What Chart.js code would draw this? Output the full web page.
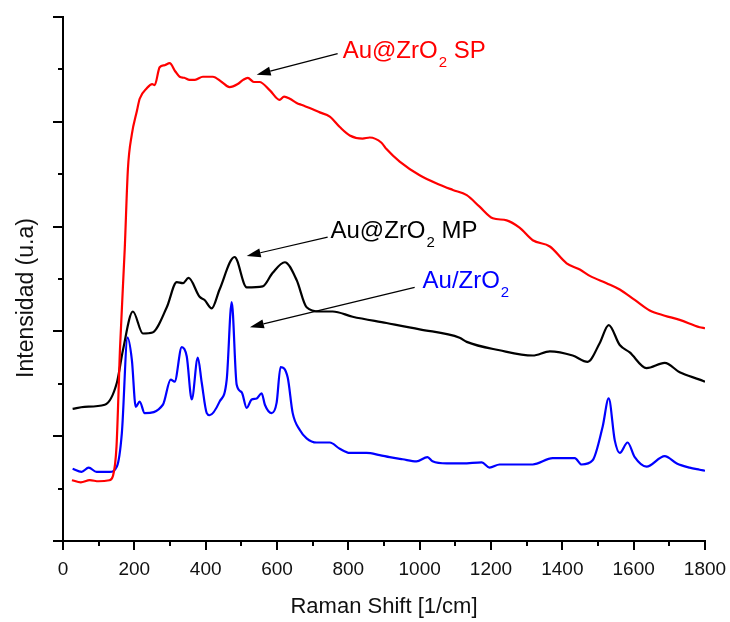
<!DOCTYPE html>
<html>
<head>
<meta charset="utf-8">
<script src="https://cdn.jsdelivr.net/npm/chart.js@4.4.1/dist/chart.umd.min.js"></script>
<style>
  html, body { margin: 0; padding: 0; background: #fff; }
  #wrap { width: 730px; height: 622px; }
</style>
</head>
<body>
<div id="wrap"><canvas id="raman"></canvas></div>
<script>
// Espectros Raman (intensidad en unidades arbitrarias)
const spShift = [25, 50, 75, 100, 130, 140, 150, 160, 173, 182, 193, 207, 215, 235, 250, 257, 271, 285, 299, 315, 327, 340, 355, 370, 392, 420, 445, 467, 490, 505, 518, 535, 551, 580, 607, 620, 636, 655, 670, 700, 720, 748, 776, 804, 840, 860, 893, 907, 944, 1000, 1056, 1093, 1132, 1168, 1205, 1244, 1280, 1317, 1365, 1412, 1449, 1477, 1524, 1561, 1603, 1645, 1687, 1729, 1785, 1800];
const spInt = [0.58, 0.56, 0.58, 0.57, 0.58, 0.62, 0.90, 1.85, 2.78, 3.55, 3.88, 4.10, 4.22, 4.32, 4.36, 4.35, 4.52, 4.54, 4.56, 4.48, 4.43, 4.42, 4.40, 4.40, 4.43, 4.43, 4.38, 4.33, 4.36, 4.40, 4.42, 4.38, 4.38, 4.30, 4.21, 4.24, 4.22, 4.18, 4.16, 4.12, 4.09, 4.05, 3.95, 3.87, 3.84, 3.85, 3.80, 3.74, 3.62, 3.49, 3.40, 3.35, 3.30, 3.19, 3.08, 3.06, 2.99, 2.87, 2.81, 2.65, 2.59, 2.53, 2.46, 2.40, 2.30, 2.20, 2.15, 2.11, 2.04, 2.03];

const mpShift = [27, 60, 117, 151, 168, 196, 224, 251, 291, 319, 336, 352, 383, 397, 417, 439, 481, 515, 560, 588, 622, 655, 683, 720, 756, 812, 907, 1000, 1112, 1132, 1224, 1317, 1365, 1429, 1471, 1505, 1530, 1561, 1589, 1636, 1687, 1729, 1785, 1800];
const mpInt = [1.26, 1.28, 1.30, 1.51, 1.82, 2.19, 1.98, 1.99, 2.23, 2.47, 2.46, 2.51, 2.33, 2.30, 2.22, 2.40, 2.71, 2.42, 2.43, 2.56, 2.66, 2.49, 2.23, 2.19, 2.19, 2.14, 2.08, 2.02, 1.94, 1.90, 1.82, 1.77, 1.81, 1.77, 1.71, 1.89, 2.06, 1.87, 1.80, 1.65, 1.70, 1.61, 1.54, 1.52];

const auShift = [27, 52, 72, 94, 131, 151, 165, 181, 193, 204, 215, 229, 280, 302, 313, 333, 347, 361, 378, 389, 403, 411, 439, 459, 473, 487, 501, 515, 529, 543, 557, 566, 585, 599, 610, 630, 644, 664, 683, 711, 728, 748, 776, 804, 851, 888, 916, 952, 991, 1022, 1036, 1076, 1121, 1174, 1196, 1224, 1317, 1373, 1435, 1454, 1485, 1513, 1530, 1547, 1561, 1583, 1603, 1636, 1687, 1721, 1757, 1785, 1800];
const auInt = [0.69, 0.66, 0.70, 0.66, 0.66, 0.71, 1.03, 1.94, 1.73, 1.28, 1.33, 1.22, 1.30, 1.54, 1.52, 1.85, 1.76, 1.35, 1.75, 1.51, 1.22, 1.20, 1.33, 1.54, 2.28, 1.49, 1.42, 1.27, 1.35, 1.36, 1.41, 1.30, 1.22, 1.32, 1.66, 1.56, 1.22, 1.06, 0.98, 0.94, 0.94, 0.94, 0.88, 0.84, 0.84, 0.82, 0.80, 0.78, 0.76, 0.80, 0.76, 0.74, 0.74, 0.75, 0.70, 0.73, 0.73, 0.79, 0.79, 0.73, 0.77, 1.09, 1.36, 0.96, 0.84, 0.94, 0.80, 0.71, 0.81, 0.74, 0.70, 0.68, 0.67];

const xTicks = [0, 1800, 200, 100];   // min, max, paso mayor, paso menor
const yTicks = [0, 5, 1, 0.5];

const FONT = '"Liberation Sans", Arial, sans-serif';

function toPoints(xs, ys) {
  return xs.map((x, i) => ({ x: x, y: ys[i] }));
}

// Etiquetas con flecha: punta, cola y texto en coordenadas de datos
const notes = [
  { parts: ['Au@ZrO', '2', ' SP'], color: '#ff0000', tip: [543, 4.45], tail: [770, 4.65], text: [784, 4.61] },
  { parts: ['Au@ZrO', '2', ' MP'], color: '#000000', tip: [515, 2.72], tail: [742, 2.90], text: [750, 2.89] },
  { parts: ['Au/ZrO', '2', ''], color: '#0000ff', tip: [524, 2.04], tail: [986, 2.42], text: [1008, 2.41] }
];

const decor = {
  id: 'decor',
  afterDraw(chart) {
    const ctx = chart.ctx;
    const xs = chart.scales.x, ys = chart.scales.y;
    const area = chart.chartArea;
    ctx.save();
    // marcas de los ejes
    ctx.strokeStyle = '#000';
    ctx.lineWidth = 2;
    ctx.beginPath();
    for (let v = xTicks[0]; v <= xTicks[1]; v += xTicks[3]) {
      const p = Math.round(xs.getPixelForValue(v));
      const len = (v % xTicks[2] === 0) ? 9 : 5;
      ctx.moveTo(p, area.bottom);
      ctx.lineTo(p, area.bottom + len);
    }
    for (let v = yTicks[0]; v <= yTicks[1] + 1e-9; v += yTicks[3]) {
      const p = Math.round(ys.getPixelForValue(v));
      const len = (Math.abs(v % yTicks[2]) < 1e-9) ? 10 : 5;
      ctx.moveTo(area.left, p);
      ctx.lineTo(area.left - len, p);
    }
    ctx.stroke();

    // titulo del eje Y
    ctx.fillStyle = '#111';
    ctx.font = '23px ' + FONT;
    ctx.textAlign = 'center';
    ctx.textBaseline = 'middle';
    ctx.translate(27, 298);
    ctx.rotate(-Math.PI / 2);
    ctx.fillText('Intensidad (u.a)', 0, 0);
    ctx.restore();

    // anotaciones
    ctx.save();
    notes.forEach(n => {
      const tx = xs.getPixelForValue(n.tip[0]), ty = ys.getPixelForValue(n.tip[1]);
      const sx = xs.getPixelForValue(n.tail[0]), sy = ys.getPixelForValue(n.tail[1]);
      const ang = Math.atan2(ty - sy, tx - sx);
      const headLen = 14, headW = 4.5;
      const bx = tx - headLen * Math.cos(ang), by = ty - headLen * Math.sin(ang);
      ctx.strokeStyle = '#000';
      ctx.lineWidth = 1.2;
      ctx.beginPath();
      ctx.moveTo(sx, sy);
      ctx.lineTo(bx, by);
      ctx.stroke();
      ctx.fillStyle = '#000';
      ctx.beginPath();
      ctx.moveTo(tx, ty);
      ctx.lineTo(bx + headW * Math.sin(ang), by - headW * Math.cos(ang));
      ctx.lineTo(bx - headW * Math.sin(ang), by + headW * Math.cos(ang));
      ctx.closePath();
      ctx.fill();

      let px = xs.getPixelForValue(n.text[0]);
      const py = ys.getPixelForValue(n.text[1]);
      ctx.fillStyle = n.color;
      ctx.textAlign = 'left';
      ctx.textBaseline = 'alphabetic';
      ctx.font = '24px ' + FONT;
      ctx.fillText(n.parts[0], px, py);
      px += ctx.measureText(n.parts[0]).width + 1;
      ctx.font = '15px ' + FONT;
      ctx.fillText(n.parts[1], px, py + 9);
      px += ctx.measureText(n.parts[1]).width;
      ctx.font = '24px ' + FONT;
      ctx.fillText(n.parts[2], px, py);
    });
    ctx.restore();
  }
};

new Chart(document.getElementById('raman'), {
  type: 'line',
  data: {
    datasets: [
      { label: 'Au@ZrO2 SP', data: toPoints(spShift, spInt), borderColor: '#ff0000' },
      { label: 'Au@ZrO2 MP', data: toPoints(mpShift, mpInt), borderColor: '#000000' },
      { label: 'Au/ZrO2', data: toPoints(auShift, auInt), borderColor: '#0000ff' }
    ]
  },
  options: {
    responsive: true,
    maintainAspectRatio: false,
    animation: false,
    layout: { padding: { top: 17, right: 25, left: 0, bottom: 0 } },
    elements: {
      line: { borderWidth: 2.2, cubicInterpolationMode: 'monotone', fill: false },
      point: { radius: 0 }
    },
    plugins: {
      legend: { display: false },
      tooltip: { enabled: false }
    },
    scales: {
      x: {
        type: 'linear',
        min: xTicks[0],
        max: xTicks[1],
        grid: { display: false, drawTicks: false },
        border: { display: true, color: '#000', width: 2 },
        ticks: {
          stepSize: xTicks[2],
          padding: 17,
          color: '#111',
          font: { family: FONT, size: 19 },
          maxRotation: 0,
          callback: v => String(v)
        },
        title: {
          display: true,
          text: 'Raman Shift [1/cm]',
          color: '#111',
          font: { family: FONT, size: 22 },
          padding: { top: 0, bottom: 2 }
        },
        afterFit(scale) {
          scale.height = 81;
          scale.paddingRight = 0;
          scale.paddingLeft = 0;
        }
      },
      y: {
        min: yTicks[0],
        max: yTicks[1],
        grid: { display: false, drawTicks: false },
        border: { display: true, color: '#000', width: 2 },
        ticks: { display: false, stepSize: yTicks[2] },
        afterFit(scale) { scale.width = 63; }
      }
    }
  },
  plugins: [decor]
});
</script>
</body>
</html>
